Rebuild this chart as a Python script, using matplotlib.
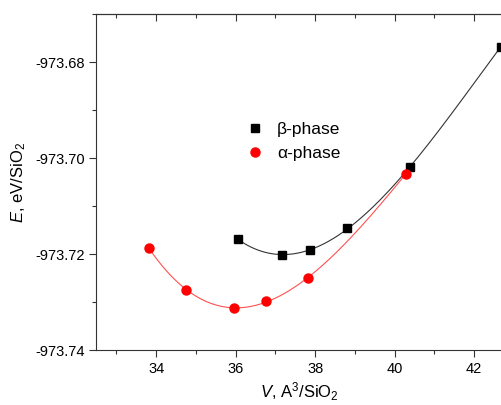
import numpy as np
import matplotlib
matplotlib.use("Agg")
import matplotlib.pyplot as plt
from matplotlib.ticker import MultipleLocator, FormatStrFormatter

plt.rcParams['font.family'] = ['Liberation Sans', 'DejaVu Sans']
plt.rcParams['mathtext.fontset'] = 'custom'
plt.rcParams['mathtext.rm'] = 'Liberation Sans'
plt.rcParams['mathtext.it'] = 'Liberation Sans:italic'

beta_V = [36.05, 37.16, 37.86, 38.81, 40.38, 42.67]
beta_E = [-973.71688, -973.72020, -973.71917, -973.71465, -973.70194, -973.67681]
alpha_V = [33.82, 34.755, 35.96, 36.77, 37.82, 40.28]
alpha_E = [-973.71875, -973.72750, -973.73120, -973.72985, -973.72500, -973.70333]

fig = plt.figure(figsize=(5.02, 4.05), dpi=100)
ax = fig.add_axes([0.1922, 0.1358, 0.8078, 0.8296])

def fit_curve(x, y):
    x = np.asarray(x); y = np.asarray(y)
    c = np.polyfit(x - x.mean(), y - y.mean(), 3)
    xs = np.linspace(x.min(), x.max(), 300)
    return xs, np.polyval(c, xs - x.mean()) + y.mean()

xs, ys = fit_curve(beta_V, beta_E)
ax.plot(xs, ys, color='#333333', lw=0.8)
xs, ys = fit_curve(alpha_V, alpha_E)
ax.plot(xs, ys, color='#ff5050', lw=0.8)

hb, = ax.plot(beta_V, beta_E, 's', color='black', ms=6, ls='none', label='β-phase')
ha, = ax.plot(alpha_V, alpha_E, 'o', color='#ff0000', ms=6.5, ls='none', label='α-phase')

ax.set_xlim(32.5, 42.7)
ax.set_ylim(-973.74, -973.67)
ax.xaxis.set_major_locator(MultipleLocator(2))
ax.xaxis.set_minor_locator(MultipleLocator(1))
ax.yaxis.set_major_locator(MultipleLocator(0.02))
ax.yaxis.set_minor_locator(MultipleLocator(0.01))
ax.yaxis.set_major_formatter(FormatStrFormatter('%.2f'))

for s in ['left', 'bottom', 'top']:
    ax.spines[s].set_color('#333333')
    ax.spines[s].set_linewidth(0.8)
ax.spines['right'].set_visible(False)

ax.tick_params(which='both', direction='out', top=False, right=False, color='#333333', width=0.8, labelsize=10.5)
ax.tick_params(which='major', length=5)
ax.tick_params(which='minor', length=3)

# top ticks inward
secx = ax.secondary_xaxis('top')
secx.xaxis.set_major_locator(MultipleLocator(2))
secx.xaxis.set_minor_locator(MultipleLocator(1))
secx.tick_params(which='both', direction='in', labeltop=False, color='#333333', width=0.8)
secx.tick_params(which='major', length=5)
secx.tick_params(which='minor', length=3)
secx.spines['top'].set_color('#333333')
secx.spines['top'].set_linewidth(0.8)

ax.set_xlabel(r'$\mathit{V}$, A$^3$/SiO$_2$', fontsize=12, labelpad=3)
ax.set_ylabel(r'$\mathit{E}$, eV/SiO$_2$', fontsize=12, labelpad=5)

ax.legend(handles=[hb, ha], loc='upper left', bbox_to_anchor=(0.33, 0.725), frameon=False,
          fontsize=12.5, handletextpad=0.8, labelspacing=0.5, handlelength=1.0)

fig.savefig('out.png', dpi=100)
